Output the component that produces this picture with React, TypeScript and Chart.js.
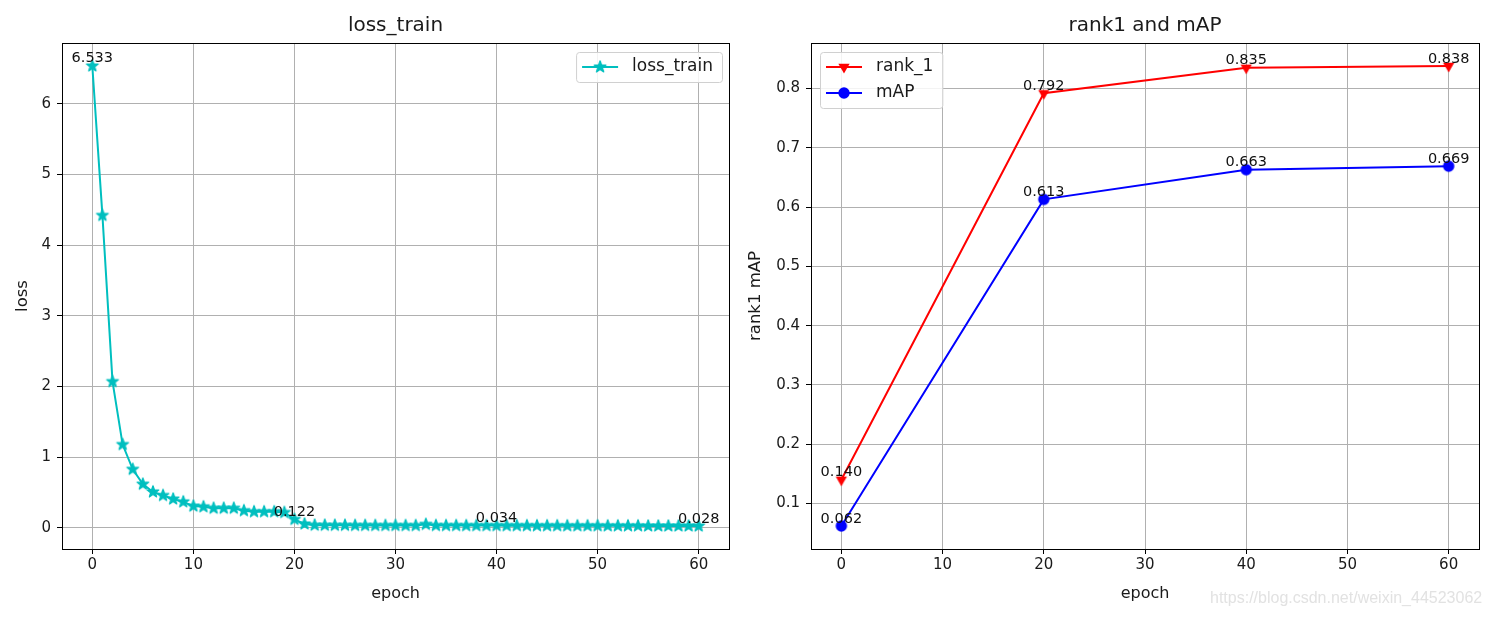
import React, { useEffect, useRef } from "react";
import { Chart, registerables } from "chart.js";

Chart.register(...registerables);

// ---------------- data ----------------
const lossEpochs = [
  0, 1, 2, 3, 4, 5, 6, 7, 8, 9, 10, 11, 12, 13, 14, 15, 16, 17, 18, 19, 20,
  21, 22, 23, 24, 25, 26, 27, 28, 29, 30, 31, 32, 33, 34, 35, 36, 37, 38, 39, 40,
  41, 42, 43, 44, 45, 46, 47, 48, 49, 50, 51, 52, 53, 54, 55, 56, 57, 58, 59, 60,
];
const lossValues = [
  6.533, 4.42, 2.07, 1.18, 0.83, 0.62, 0.51, 0.46, 0.41, 0.37, 0.31,
  0.30, 0.28, 0.28, 0.28, 0.245, 0.23, 0.23, 0.23, 0.22, 0.122,
  0.057, 0.040, 0.039, 0.038, 0.038, 0.037, 0.037, 0.036, 0.036, 0.036,
  0.035, 0.035, 0.052, 0.036, 0.035, 0.035, 0.034, 0.034, 0.034, 0.034,
  0.033, 0.033, 0.033, 0.032, 0.032, 0.032, 0.031, 0.031, 0.031, 0.031,
  0.030, 0.030, 0.030, 0.030, 0.029, 0.029, 0.029, 0.029, 0.029, 0.028,
];
const lossAnnotatedEpochs = [0, 20, 40, 60];

const evalEpochs = [0, 20, 40, 60];
const rank1Values = [0.14, 0.792, 0.835, 0.838];
const mapValues = [0.062, 0.613, 0.663, 0.669];

const epochTicks = [0, 10, 20, 30, 40, 50, 60];
const lossTicks = [0, 1, 2, 3, 4, 5, 6];
const scoreTicks = [0.1, 0.2, 0.3, 0.4, 0.5, 0.6, 0.7, 0.8];

const watermarkText = "https://blog.csdn.net/weixin_44523062";

// ---------------- styling ----------------
const FONT = "'DejaVu Sans', sans-serif";
const TEXT = "#1a1a1a";
const GRID = "#b0b0b0";

type MarkerKind = "star" | "tri" | "circle";

function makeMarker(kind: MarkerKind, color: string): HTMLCanvasElement {
  const c = document.createElement("canvas");
  c.width = 18;
  c.height = 18;
  const ctx = c.getContext("2d")!;
  const cx = 9;
  const cy = 9;
  ctx.fillStyle = color;
  ctx.strokeStyle = color;
  ctx.lineJoin = "round";
  ctx.beginPath();
  if (kind === "star") {
    const R = 6.2;
    const r = R * 0.42;
    for (let i = 0; i < 10; i++) {
      const a = -Math.PI / 2 + (i * Math.PI) / 5;
      const rr = i % 2 === 0 ? R : r;
      const px = cx + Math.cos(a) * rr;
      const py = cy + Math.sin(a) * rr;
      if (i === 0) ctx.moveTo(px, py);
      else ctx.lineTo(px, py);
    }
    ctx.closePath();
    ctx.fill();
    ctx.lineWidth = 1.2;
    ctx.stroke();
    return c;
  } else if (kind === "tri") {
    const R = 6.5;
    for (let i = 0; i < 3; i++) {
      const a = Math.PI / 2 + (i * 2 * Math.PI) / 3;
      const px = cx + Math.cos(a) * R;
      const py = cy + Math.sin(a) * R;
      if (i === 0) ctx.moveTo(px, py);
      else ctx.lineTo(px, py);
    }
    ctx.closePath();
  } else {
    ctx.arc(cx, cy, 5.7, 0, Math.PI * 2);
  }
  ctx.fill();
  return c;
}

function xAxis(ticks: number[]) {
  return {
    type: "linear",
    min: -3,
    max: 63,
    afterBuildTicks: (s: any) => {
      s.ticks = ticks.map((v) => ({ value: v }));
    },
    afterFit: (s: any) => {
      s.height = 68;
    },
    ticks: {
      font: { family: FONT, size: 15 },
      color: TEXT,
      padding: 2,
      maxRotation: 0,
      autoSkip: false,
      callback: (v: any) => String(v),
    },
    grid: { color: GRID, lineWidth: 1, tickColor: "#000", tickLength: 5, drawTicks: true },
    border: { display: true, color: "#000", width: 1 },
    title: {
      display: true,
      text: "epoch",
      font: { family: FONT, size: 16 },
      color: TEXT,
      padding: { top: 0, bottom: 14 },
    },
  };
}

function yAxis(min: number, max: number, ticks: number[], decimals: number, width: number, title: string, titlePad: number) {
  return {
    type: "linear",
    min,
    max,
    afterBuildTicks: (s: any) => {
      s.ticks = ticks.map((v) => ({ value: v }));
    },
    afterFit: (s: any) => {
      s.width = width;
    },
    ticks: {
      font: { family: FONT, size: 15 },
      color: TEXT,
      padding: 6,
      autoSkip: false,
      callback: (v: any) => Number(v).toFixed(decimals),
    },
    grid: { color: GRID, lineWidth: 1, tickColor: "#000", tickLength: 5, drawTicks: true },
    border: { display: true, color: "#000", width: 1 },
    title: {
      display: true,
      text: title,
      font: { family: FONT, size: 16.5 },
      color: TEXT,
      padding: { top: titlePad, bottom: 0 },
    },
  };
}

interface LegendSpec {
  corner: "left" | "right";
  items: { label: string; color: string; marker: HTMLCanvasElement }[];
}

function makePlugins(title: string, legend: LegendSpec, annotations: { ds: number; idx: number[] }[]) {
  return [
    {
      id: "frameAndLabels",
      afterDatasetsDraw(chart: any) {
        const { ctx, chartArea: a } = chart;
        ctx.save();
        // value labels
        ctx.font = `14.5px ${FONT}`;
        ctx.fillStyle = "#111";
        ctx.textAlign = "center";
        ctx.textBaseline = "bottom";
        annotations.forEach(({ ds, idx }) => {
          const meta = chart.getDatasetMeta(ds);
          const data = chart.data.datasets[ds].data as any[];
          idx.forEach((i) => {
            const el = meta.data[i];
            if (!el) return;
            ctx.fillText(Number(data[i].y).toFixed(3), el.x, el.y);
          });
        });
        // frame
        ctx.strokeStyle = "#000";
        ctx.lineWidth = 1;
        ctx.strokeRect(
          Math.round(a.left) + 0.5,
          Math.round(a.top) + 0.5,
          Math.round(a.right - a.left),
          Math.round(a.bottom - a.top)
        );
        ctx.restore();
      },
      afterDraw(chart: any) {
        const { ctx, chartArea: a } = chart;
        ctx.save();
        // title
        ctx.font = `20px ${FONT}`;
        ctx.fillStyle = TEXT;
        ctx.textAlign = "center";
        ctx.textBaseline = "middle";
        ctx.fillText(title, (a.left + a.right) / 2, 26);
        // legend
        ctx.font = `17px ${FONT}`;
        const maxW = Math.max(...legend.items.map((it) => ctx.measureText(it.label).width));
        const w = 56 + maxW + 9;
        const h = 30 + (legend.items.length - 1) * 26;
        const left = legend.corner === "right" ? a.right - 7 - w : a.left + 9;
        const top = a.top + 9;
        ctx.beginPath();
        if ((ctx as any).roundRect) (ctx as any).roundRect(left + 0.5, top + 0.5, w, h, 3);
        else ctx.rect(left + 0.5, top + 0.5, w, h);
        ctx.fillStyle = "rgba(255,255,255,0.85)";
        ctx.fill();
        ctx.strokeStyle = "#d0d0d0";
        ctx.lineWidth = 1;
        ctx.stroke();
        legend.items.forEach((it, i) => {
          const cy = top + 15 + i * 26;
          ctx.strokeStyle = it.color;
          ctx.lineWidth = 2;
          ctx.beginPath();
          ctx.moveTo(left + 6, cy);
          ctx.lineTo(left + 42, cy);
          ctx.stroke();
          ctx.drawImage(it.marker, left + 24 - it.marker.width / 2, cy - it.marker.height / 2);
          ctx.fillStyle = TEXT;
          ctx.textAlign = "left";
          ctx.textBaseline = "middle";
          ctx.fillText(it.label, left + 56, cy);
        });
        ctx.restore();
      },
    },
  ];
}

function LossChart() {
  const ref = useRef<HTMLCanvasElement>(null);
  useEffect(() => {
    const color = "#00bfbf";
    const star = makeMarker("star", color);
    const chart = new Chart(ref.current!, {
      type: "line",
      data: {
        datasets: [
          {
            label: "loss_train",
            data: lossEpochs.map((e, i) => ({ x: e, y: lossValues[i] })),
            borderColor: color,
            backgroundColor: color,
            borderWidth: 2,
            pointStyle: star as any,
            pointRadius: 6,
            pointHoverRadius: 6,
            tension: 0,
            fill: false,
          },
        ],
      },
      options: {
        animation: false,
        responsive: false,
        devicePixelRatio: 1,
        events: [],
        layout: { padding: { left: 0, right: 16, top: 43, bottom: 0 } },
        plugins: { legend: { display: false }, tooltip: { enabled: false }, title: { display: false } },
        scales: {
          x: xAxis(epochTicks) as any,
          y: yAxis(-0.297, 6.858, lossTicks, 0, 62, "loss", 13) as any,
        },
      },
      plugins: makePlugins(
        "loss_train",
        { corner: "right", items: [{ label: "loss_train", color, marker: star }] },
        [{ ds: 0, idx: lossAnnotatedEpochs.map((e) => lossEpochs.indexOf(e)) }]
      ) as any,
    });
    return () => chart.destroy();
  }, []);
  return <canvas ref={ref} width={745} height={617} style={{ width: 745, height: 617, display: "block" }} />;
}

function ScoreChart() {
  const ref = useRef<HTMLCanvasElement>(null);
  useEffect(() => {
    const red = "#ff0000";
    const blue = "#0000ff";
    const tri = makeMarker("tri", red);
    const dot = makeMarker("circle", blue);
    const chart = new Chart(ref.current!, {
      type: "line",
      data: {
        datasets: [
          {
            label: "rank_1",
            data: evalEpochs.map((e, i) => ({ x: e, y: rank1Values[i] })),
            borderColor: red,
            backgroundColor: red,
            borderWidth: 2,
            pointStyle: tri as any,
            pointRadius: 6,
            pointHoverRadius: 6,
            tension: 0,
            fill: false,
          },
          {
            label: "mAP",
            data: evalEpochs.map((e, i) => ({ x: e, y: mapValues[i] })),
            borderColor: blue,
            backgroundColor: blue,
            borderWidth: 2,
            pointStyle: dot as any,
            pointRadius: 6,
            pointHoverRadius: 6,
            tension: 0,
            fill: false,
          },
        ],
      },
      options: {
        animation: false,
        responsive: false,
        devicePixelRatio: 1,
        events: [],
        layout: { padding: { left: 0, right: 12, top: 43, bottom: 0 } },
        plugins: { legend: { display: false }, tooltip: { enabled: false }, title: { display: false } },
        scales: {
          x: xAxis(epochTicks) as any,
          y: yAxis(0.0232, 0.8768, scoreTicks, 1, 66, "rank1 mAP", 1) as any,
        },
      },
      plugins: makePlugins(
        "rank1 and mAP",
        {
          corner: "left",
          items: [
            { label: "rank_1", color: red, marker: tri },
            { label: "mAP", color: blue, marker: dot },
          ],
        },
        [
          { ds: 0, idx: [0, 1, 2, 3] },
          { ds: 1, idx: [0, 1, 2, 3] },
        ]
      ) as any,
    });
    return () => chart.destroy();
  }, []);
  return <canvas ref={ref} width={746} height={617} style={{ width: 746, height: 617, display: "block" }} />;
}

export default function App() {
  return (
    <div
      style={{
        position: "fixed",
        left: 0,
        top: 0,
        width: 1491,
        height: 617,
        background: "#ffffff",
        overflow: "hidden",
      }}
    >
      <div style={{ position: "absolute", left: 0, top: 0 }}>
        <LossChart />
      </div>
      <div style={{ position: "absolute", left: 745, top: 0 }}>
        <ScoreChart />
      </div>
      <div
        style={{
          position: "absolute",
          left: 1210,
          top: 588,
          fontFamily: "'Liberation Sans', Arial, sans-serif",
          fontSize: 16,
          color: "#e2e2e2",
          whiteSpace: "nowrap",
          lineHeight: "20px",
        }}
      >
        {watermarkText}
      </div>
    </div>
  );
}
